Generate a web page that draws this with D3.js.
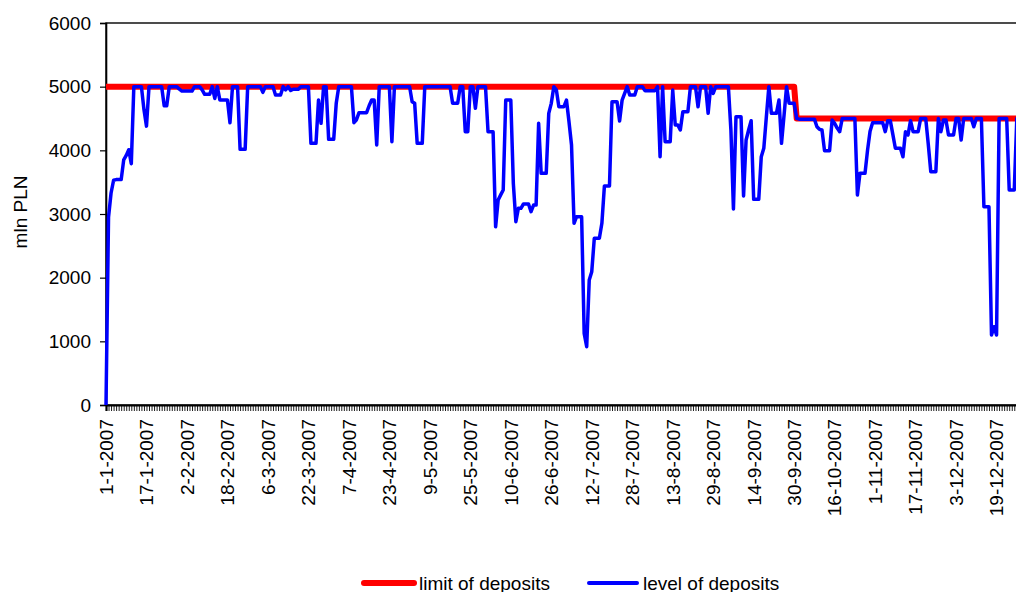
<!DOCTYPE html>
<html>
<head>
<meta charset="utf-8">
<script src="https://cdn.jsdelivr.net/npm/d3@7"></script>
<style>
  html, body { margin: 0; padding: 0; background: #fff; }
  svg { display: block; font-family: "Liberation Sans", Arial, sans-serif; }
</style>
</head>
<body>
<svg id="chart" width="1016" height="592"></svg>
<script>
// ---- data (daily, starting 1-1-2007) ----
const startDay = "1-1-2007";
const depositLevel = [
  0,2950,3330,3530,3540,3540,3540,3850,3920,4010,
  3790,5000,5000,5000,5000,4640,4380,5000,5000,5000,
  5000,5000,5000,4700,4700,5000,5000,5000,5000,4960,
  4930,4930,4930,4930,4930,5000,5000,5000,4950,4880,
  4880,4880,5000,4815,5000,4790,4790,4790,4790,4434,
  5000,5000,5000,4016,4016,4016,5000,5000,5000,5000,
  5000,5000,4910,5000,5000,5000,5000,4870,4870,4870,
  5000,4950,5000,4940,4960,4960,4960,5000,5000,5000,
  5000,4110,4110,4110,4790,4424,5000,5000,4173,4173,
  4173,4738,5000,5000,5000,5000,5000,5000,4434,4480,
  4591,4591,4591,4591,4700,4790,4790,4084,5000,5000,
  5000,5000,5000,4136,5000,5000,5000,5000,5000,5000,
  5000,4764,4740,4110,4110,4110,5000,5000,5000,5000,
  5000,5000,5000,5000,5000,5000,5000,4738,4738,4738,
  5000,5000,4293,4293,5000,5000,4660,5000,5000,5000,
  5000,4293,4293,4293,2800,3220,3300,3377,4790,4790,
  4790,3482,2880,3090,3090,3157,3157,3157,3036,3140,
  3140,4424,3639,3639,3639,4581,4738,5000,4950,4685,
  4685,4685,4790,4450,4084,2854,2958,2958,2958,1126,
  916,1963,2094,2618,2618,2618,2854,3440,3440,3440,
  4764,4764,4764,4460,4790,4895,5000,4869,4869,4869,
  5000,5000,5000,4937,4937,4937,4937,4937,5000,3900,
  5000,4136,4136,4136,4947,4398,4398,4319,4607,4607,
  4607,5000,5000,5000,4685,5000,5000,5000,4581,5000,
  4895,5000,5000,5000,5000,5000,5000,4319,3078,4528,
  4528,4528,3283,4162,4320,4466,3230,3230,3230,3900,
  4032,4520,5000,4581,4581,4581,4790,4110,4550,5000,
  4738,4738,4738,4502,4490,4490,4490,4490,4490,4490,
  4490,4371,4330,4320,3995,3995,3995,4476,4424,4350,
  4293,4500,4500,4500,4500,4500,4500,3298,3639,3639,
  3639,4000,4300,4434,4434,4434,4434,4434,4293,4466,
  4466,4250,4032,4032,4032,3900,4293,4240,4466,4293,
  4293,4293,4500,4500,4500,4100,3665,3665,3665,4500,
  4293,4476,4476,4240,4240,4240,4500,4500,4162,4500,
  4500,4500,4500,4371,4500,4500,4500,3115,3115,3115,
  1100,1230,1100,4500,4500,4500,4500,3377,3377,3377,
  4500,4500,4500,4500,4500
];
const limitDates = ["1-1-2007", "30-9-2007", "1-10-2007", "31-12-2007"];
const limitValues = [5000, 5000, 4500, 4500];
const xTickLabels = ["1-1-2007","17-1-2007","2-2-2007","18-2-2007","6-3-2007","22-3-2007",
  "7-4-2007","23-4-2007","9-5-2007","25-5-2007","10-6-2007","26-6-2007","12-7-2007",
  "28-7-2007","13-8-2007","29-8-2007","14-9-2007","30-9-2007","16-10-2007","1-11-2007",
  "17-11-2007","3-12-2007","19-12-2007"];
const yTicks = [0, 1000, 2000, 3000, 4000, 5000, 6000];
const yTitle = "mln PLN";
const seriesNames = ["limit of deposits", "level of deposits"];
const seriesColors = ["#ff0000", "#0000ff"];

// ---- chart ----
(function () {
const parse = d3.utcParse("%d-%m-%Y");
const t0 = parse(startDay);
const levelData = depositLevel.map((v, i) => ({ date: d3.utcDay.offset(t0, i), value: v }));
const limitData = limitDates.map((d, i) => ({ date: parse(d), value: limitValues[i] }));

const svg = d3.select("#chart");
const plotLeft = 106, plotTop = 23, plotBottom = 405;
const plotRight = plotLeft + 2.53 * (depositLevel.length - 1);

const x = d3.scaleUtc().domain([t0, levelData[levelData.length - 1].date]).range([plotLeft, plotRight]);
const y = d3.scaleLinear().domain([0, 6000]).range([plotBottom, plotTop]);

// plot frame
svg.append("rect")
  .attr("x", plotLeft).attr("y", plotTop)
  .attr("width", plotRight - plotLeft).attr("height", plotBottom - plotTop)
  .attr("fill", "none").attr("stroke", "#000").attr("stroke-width", 1.4);

// y axis
const yAxis = d3.axisLeft(y).tickValues(yTicks).tickSize(6).tickPadding(9).tickFormat(d3.format("d"));
const gy = svg.append("g").attr("transform", `translate(${plotLeft},0)`).call(yAxis);
gy.select(".domain").attr("stroke-width", 1.6);
gy.selectAll(".tick line").attr("stroke-width", 1.2);
gy.selectAll("text").attr("font-size", 19).attr("fill", "#000")
  .attr("font-family", "Liberation Sans, Arial, sans-serif");

// x axis: a small tick every day
const xAxis = d3.axisBottom(x).ticks(d3.utcDay.every(1)).tickSize(6).tickFormat("");
const gx = svg.append("g").attr("transform", `translate(0,${plotBottom})`).call(xAxis);
gx.select(".domain").attr("stroke-width", 2.2);
gx.selectAll(".tick line").attr("stroke-width", 0.9);

// x tick labels (rotated)
svg.append("g").selectAll("text")
  .data(xTickLabels)
  .join("text")
  .attr("transform", d => `translate(${x(parse(d))},419) rotate(-90)`)
  .attr("text-anchor", "end")
  .attr("dy", "0.36em")
  .attr("font-size", 19)
  .attr("fill", "#000")
  .text(d => d);

// y title
svg.append("text")
  .attr("transform", `translate(20,212) rotate(-90)`)
  .attr("text-anchor", "middle")
  .attr("dy", "0.36em")
  .attr("font-size", 19)
  .attr("fill", "#000")
  .text(yTitle);

// lines
const line = d3.line().x(d => x(d.date)).y(d => y(d.value));
svg.append("path").datum(limitData)
  .attr("d", line).attr("fill", "none")
  .attr("stroke", seriesColors[0]).attr("stroke-width", 6)
  .attr("stroke-linejoin", "round");
svg.append("path").datum(levelData)
  .attr("d", line).attr("fill", "none")
  .attr("stroke", seriesColors[1]).attr("stroke-width", 3.5)
  .attr("stroke-linejoin", "round");

// legend
const legendItems = [
  { name: seriesNames[0], color: seriesColors[0], x1: 364, x2: 414, w: 6, tx: 419 },
  { name: seriesNames[1], color: seriesColors[1], x1: 589, x2: 637, w: 4, tx: 643 }
];
const lg = svg.append("g");
lg.selectAll("line").data(legendItems).join("line")
  .attr("x1", d => d.x1).attr("x2", d => d.x2)
  .attr("y1", 583).attr("y2", 583)
  .attr("stroke", d => d.color).attr("stroke-width", d => d.w)
  .attr("stroke-linecap", "round");
lg.selectAll("text").data(legendItems).join("text")
  .attr("x", d => d.tx).attr("y", 590)
  .attr("font-size", 19).attr("fill", "#000")
  .text(d => d.name);
})();
</script>
</body>
</html>
